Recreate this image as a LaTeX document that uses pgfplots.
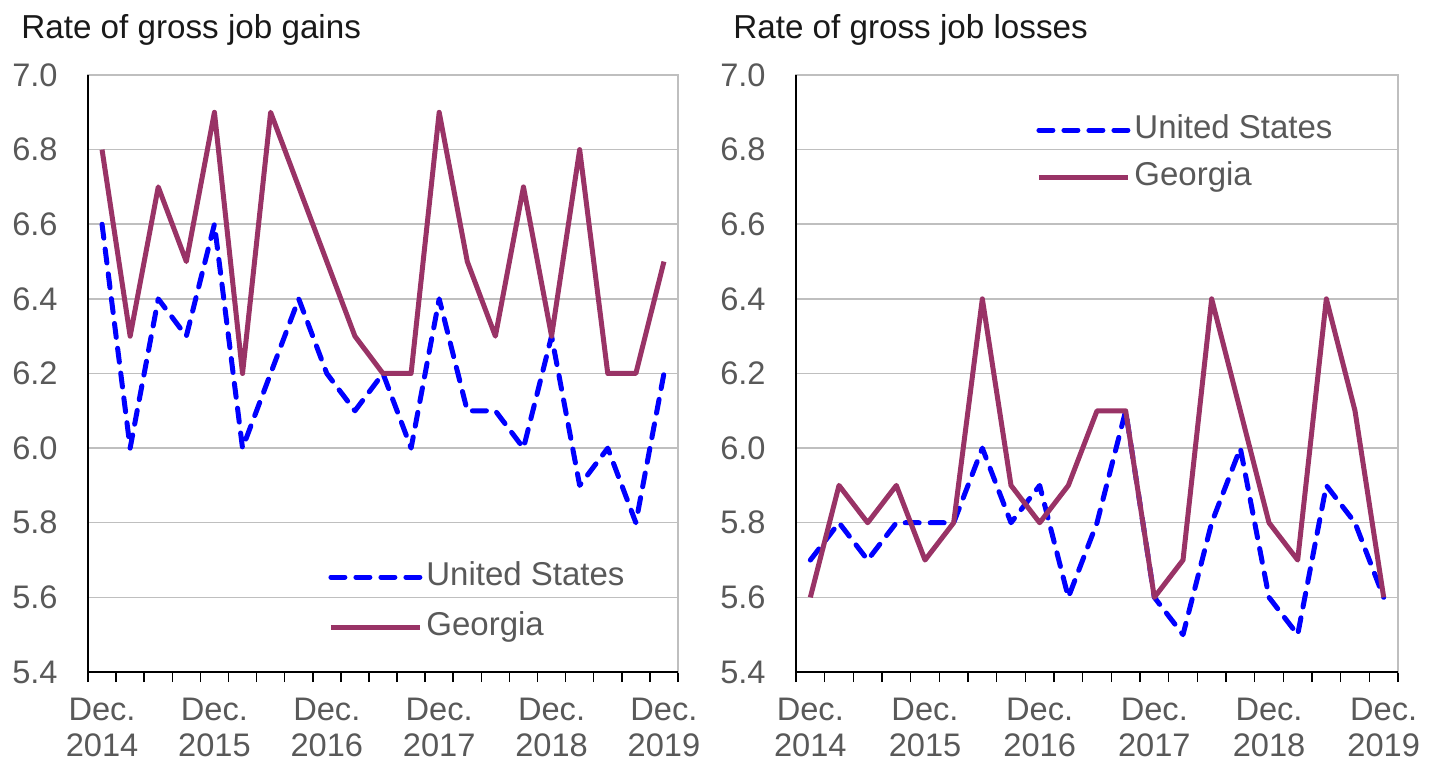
\documentclass[border=0pt]{standalone}
\usepackage{fontspec}
\setmainfont{Liberation Sans}
\usepackage{pgfplots}
\pgfplotsset{compat=1.18}
\definecolor{usblue}{RGB}{0,0,255}
\definecolor{gamaroon}{RGB}{153,51,102}
\definecolor{gridgray}{RGB}{191,191,191}
\definecolor{labgray}{RGB}{89,89,89}

\pgfplotstableread{
x lus lga rus rga
0 6.6 6.8 5.7 5.6
1 6.0 6.3 5.8 5.9
2 6.4 6.7 5.7 5.8
3 6.3 6.5 5.8 5.9
4 6.6 6.9 5.8 5.7
5 6.0 6.2 5.8 5.8
6 6.2 6.9 6.0 6.4
7 6.4 6.7 5.8 5.9
8 6.2 6.5 5.9 5.8
9 6.1 6.3 5.6 5.9
10 6.2 6.2 5.8 6.1
11 6.0 6.2 6.1 6.1
12 6.4 6.9 5.6 5.6
13 6.1 6.5 5.5 5.7
14 6.1 6.3 5.8 6.4
15 6.0 6.7 6.0 6.1
16 6.3 6.3 5.6 5.8
17 5.9 6.8 5.5 5.7
18 6.0 6.2 5.9 6.4
19 5.8 6.2 5.8 6.1
20 6.2 6.5 5.6 5.6
}\datatable

\pgfplotsset{
  panel/.style={
    scale only axis, height=298.5pt, anchor=south west,
    xmin=-0.5, xmax=20.5, ymin=5.4, ymax=7.0,
    enlargelimits=false, clip=false,
    axis line style={gridgray, line width=0.75pt},
    ytick={5.4,5.6,5.8,6.0,6.2,6.4,6.6,6.8,7.0},
    ymajorgrids, major grid style={gridgray, line width=0.75pt},
    yticklabel style={/pgf/number format/.cd, fixed, fixed zerofill, precision=1, assume math mode=true, /tikz/.cd,
      font=\fontsize{16.3}{18}\selectfont, text=labgray, inner sep=0pt, xshift=-10pt},
    ytick style={draw=none},
    xtick pos=bottom, ytick pos=left,
    xtick={-0.5,0.5,...,20.5},
    xticklabels={},
    tick align=outside,
    major tick length=5pt,
    xtick style={black, line width=0.75pt},
    extra x ticks={0,4,8,12,16,20},
    extra x tick labels={{Dec.\\2014},{Dec.\\2015},{Dec.\\2016},{Dec.\\2017},{Dec.\\2018},{Dec.\\2019}},
    extra x tick style={major tick length=0pt},
    xticklabel style={align=center, font=\fontsize{16.3}{18}\selectfont, text=labgray, inner sep=0pt, yshift=-13pt},
    legend cell align=left,
    legend image code/.code={\draw[#1] (0pt,0pt) -- (44.5pt,0pt);},
    legend style={draw=none, fill=none, anchor=north west, inner sep=0pt,
      font=\fontsize{16.5}{18}\selectfont, text=labgray, column sep=2pt,
      nodes={inner sep=0pt, text height=12pt, text depth=4pt}},
  },
  usline/.style={usblue, line width=2.5pt, line cap=round, dash pattern=on 7pt off 5.5pt, line join=round},
  galine/.style={gamaroon, line width=2.5pt, line join=round},
}

\begin{document}
\begin{tikzpicture}
\useasboundingbox (0,0) rectangle (719pt,382pt);
\begin{axis}[panel, width=295pt, at={(44pt,46pt)},
  legend style={at={(0.4068,0.1863)}, row sep=9pt}]
\addplot[usline] table[x=x, y=lus] {\datatable};
\addlegendentry{United States}
\addplot[galine] table[x=x, y=lga] {\datatable};
\addlegendentry{Georgia}
\draw[black, line width=0.75pt] (rel axis cs:0,1) -- (rel axis cs:0,0) -- (rel axis cs:1,0);
\end{axis}
\begin{axis}[panel, width=301pt, at={(398pt,46pt)},
  legend style={at={(0.3987,0.935)}, row sep=7.5pt}]
\addplot[usline] table[x=x, y=rus] {\datatable};
\addlegendentry{United States}
\addplot[galine] table[x=x, y=rga] {\datatable};
\addlegendentry{Georgia}
\draw[black, line width=0.75pt] (rel axis cs:0,1) -- (rel axis cs:0,0) -- (rel axis cs:1,0);
\end{axis}
\node[anchor=base west, inner sep=0pt, font=\fontsize{16.6}{19}\selectfont, text=black!90] at (10.5pt,362.5pt) {Rate of gross job gains};
\node[anchor=base west, inner sep=0pt, font=\fontsize{16.6}{19}\selectfont, text=black!90] at (366.5pt,362.5pt) {Rate of gross job losses};
\end{tikzpicture}
\end{document}
